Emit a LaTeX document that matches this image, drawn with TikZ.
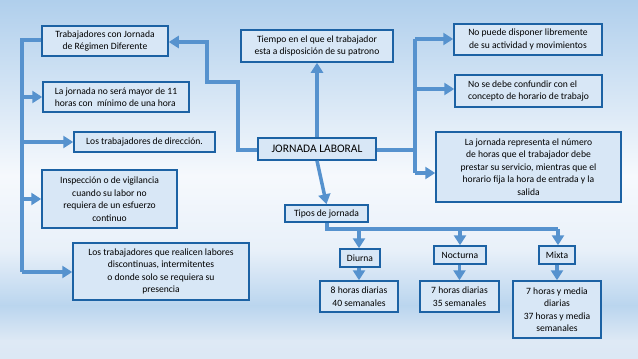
\documentclass[tikz,border=0pt]{standalone}
\usepackage{fontspec}
\setmainfont{Carlito}
\usetikzlibrary{arrows.meta}
\definecolor{fondo}{RGB}{176,207,236}
\definecolor{claro}{RGB}{246,249,253}
\definecolor{medio}{RGB}{232,240,249}
\definecolor{banda}{RGB}{186,213,238}
\definecolor{bajo}{RGB}{222,233,245}
\definecolor{relleno}{RGB}{216,231,246}
\definecolor{borde}{RGB}{28,98,164}
\definecolor{flechaazul}{RGB}{86,146,206}

\begin{document}
\begin{tikzpicture}[x=1pt, y=-1pt,
  caja/.style={draw=borde, line width=1.5pt, fill=relleno, inner sep=2pt,
    align=center, font=\fontsize{9.6}{12.5}\selectfont},
  linea/.style={draw=flechaazul, line width=3.5pt},
  flecha/.style={linea, -{Triangle[length=10pt,width=12pt]}}]
% fondo
\useasboundingbox (0,0) rectangle (638,359);
\shade[top color=fondo, bottom color=claro] (0,0) rectangle (638,176);
\shade[top color=claro, bottom color=medio] (0,175) rectangle (638,251);
\shade[top color=medio, bottom color=banda] (0,250) rectangle (638,306);
\shade[top color=banda, bottom color=bajo] (0,305) rectangle (638,341);
\shade[top color=bajo, bottom color=bajo!95!fondo] (0,340) rectangle (638,359);

% nodos
\node[caja, font=\fontsize{11.5}{13}\selectfont, minimum width=118pt, minimum height=22pt] (jl) at (317,149) {JORNADA LABORAL};
\node[caja, minimum width=152pt, minimum height=32pt] (tiempo) at (317,46) {Tiempo en el que el trabajador\\esta a disposición de su patrono};
\node[caja, minimum width=126pt, minimum height=30pt] (trab) at (105,41) {Trabajadores con Jornada\\de Régimen Diferente};
\node[caja, align=left, minimum width=146pt, minimum height=30pt] (jmax) at (116,97) {La jornada no será mayor de 11\\horas con \ mínimo de una hora};
\node[caja, minimum width=141pt, minimum height=20pt] (direc) at (144.5,142) {Los trabajadores de dirección.};
\node[caja, minimum width=135pt, minimum height=58pt] (insp) at (109.5,199) {Inspección o de vigilancia\\cuando su labor no\\requiera de un esfuerzo\\continuo};
\node[caja, minimum width=176pt, minimum height=57pt] (discont) at (161,271.5) {Los trabajadores que realicen labores\\discontinuas, intermitentes\\o donde solo se requiera su\\presencia};
\node[caja, minimum width=148pt, minimum height=31pt] (nopuede) at (528,39.5) {No puede disponer libremente\\de su actividad y movimientos};
\node[caja, align=left, minimum width=147pt, minimum height=32pt] (nosedebe) at (528.5,91) {No se debe confundir con el\\concepto de horario de trabajo};
\node[caja, minimum width=185pt, minimum height=70pt] (jrep) at (528.5,167) {La jornada representa el número\\de horas que el trabajador debe\\prestar su servicio, mientras que el\\horario fija la hora de entrada y la\\salida};
\node[caja, minimum width=83pt, minimum height=17pt] (tipos) at (326.5,213.5) {Tipos de jornada};
\node[caja, minimum width=40pt, minimum height=18pt] (diurna) at (360,258) {Diurna};
\node[caja, minimum width=52pt, minimum height=18pt] (noct) at (460,255) {Nocturna};
\node[caja, minimum width=36pt, minimum height=18pt] (mixta) at (557,255) {Mixta};
\node[caja, minimum width=78pt, minimum height=31pt] (hdiurna) at (359,296.5) {8 horas diarias\\40 semanales};
\node[caja, minimum width=79pt, minimum height=31pt] (hnoct) at (459.5,296.5) {7 horas diarias\\35 semanales};
\node[caja, minimum width=88pt, minimum height=57pt] (hmixta) at (557,309.5) {7 horas y media\\diarias\\37 horas y media\\semanales};

% puntos de quiebre
\coordinate (izq) at (22,40);
\coordinate (izqbajo) at (22,272);
\coordinate (der) at (415,150);
\coordinate (dersup) at (415,39);
\coordinate (derinf) at (415,173);
\coordinate (rama) at (327,229);
\coordinate (ramafin) at (558,229);

% conectores
\draw[flecha] (jl.west |- 0,150) -- (238,150) -- (238,82) -- (207,82) -- (207,42) -- (trab.east |- 0,42);
\draw[flecha] (jl.north) -- (tiempo.south);
\draw[flecha] (jl.south) -- (tipos.north);
% rama izquierda
\draw[linea] (trab.west |- izq) -- (izq) -- (izqbajo);
\draw[flecha] (22,97) -- (jmax.west);
\draw[flecha] (22,142) -- (direc.west);
\draw[flecha] (22,199) -- (insp.west);
\draw[flecha] (izqbajo) -- (discont.west |- izqbajo);
% rama derecha
\draw[linea] (jl.east |- der) -- (der);
\draw[linea] (dersup) -- (derinf);
\draw[flecha] (dersup) -- (nopuede.west |- dersup);
\draw[flecha] (415,89) -- (nosedebe.west |- 0,89);
\draw[flecha] (derinf) -- (jrep.west |- derinf);
% tipos de jornada
\draw[linea] (tipos.south -| rama) -- (rama) -- (ramafin);
\draw[flecha] (rama -| 359,0) -- (diurna.north -| 359,0);
\draw[flecha] (rama -| noct.north) -- (noct.north);
\draw[flecha] (ramafin) -- (mixta.north -| ramafin);
\draw[flecha] (diurna.south -| hdiurna.north) -- (hdiurna.north);
\draw[flecha] (noct.south -| hnoct.north) -- (hnoct.north);
\draw[flecha] (mixta.south) -- (hmixta.north);
\end{tikzpicture}
\end{document}
